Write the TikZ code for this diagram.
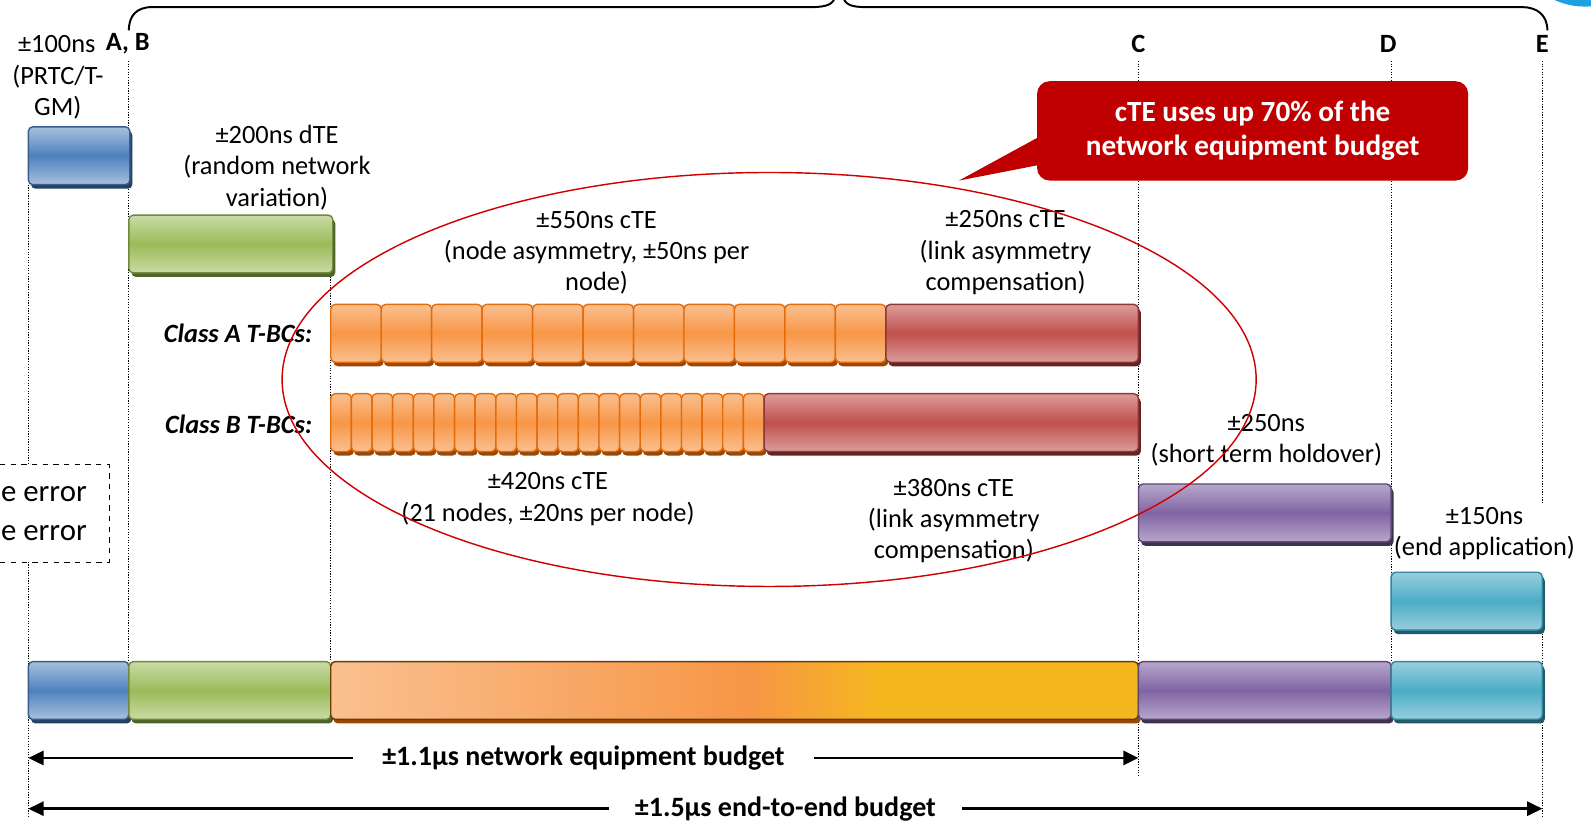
\documentclass[tikz,border=0pt]{standalone}
\usepackage{fontspec}
\setmainfont{Carlito}
\usetikzlibrary{arrows.meta, positioning, calc, shadows}
\definecolor{bluebase}{HTML}{4F81BD}
\definecolor{bluelight}{HTML}{A7C0DE}
\definecolor{blueborder}{HTML}{385D8A}
\definecolor{bluedark}{HTML}{254061}
\definecolor{grnbase}{HTML}{9BBB59}
\definecolor{grnlight}{HTML}{C9DBA5}
\definecolor{grnborder}{HTML}{71893F}
\definecolor{grndark}{HTML}{4F6228}
\definecolor{orbase}{HTML}{F79646}
\definecolor{orlight}{HTML}{FAC090}
\definecolor{orborder}{HTML}{E46C0A}
\definecolor{ordark}{HTML}{984807}
\definecolor{orbrown}{HTML}{6B3A05}
\definecolor{redbase}{HTML}{C0504D}
\definecolor{redlight}{HTML}{DC9C9A}
\definecolor{redborder}{HTML}{8C3836}
\definecolor{reddark}{HTML}{632523}
\definecolor{purbase}{HTML}{8064A2}
\definecolor{purlight}{HTML}{B7A7CB}
\definecolor{purborder}{HTML}{5C4776}
\definecolor{purdark}{HTML}{3F3151}
\definecolor{cynbase}{HTML}{4BACC6}
\definecolor{cynlight}{HTML}{98CFDE}
\definecolor{cynborder}{HTML}{31859C}
\definecolor{cyndark}{HTML}{215968}
\definecolor{yel}{HTML}{F5B71E}
\definecolor{calloutred}{HTML}{C00000}
\definecolor{ringred}{HTML}{D00000}
\definecolor{logoblue}{HTML}{1DA1E0}
\pgfdeclarehorizontalshading{budgetgrad}{100bp}{color(0bp)=(orlight); color(25bp)=(orlight); color(51bp)=(orbase); color(59bp)=(yel); color(100bp)=(yel)}
\tikzset{
  tebar/.style={draw=#1border, line width=0.8pt, rounded corners=2.5pt,
    top color=#1light, bottom color=#1light, middle color=#1base,
    inner sep=0pt, outer sep=0pt, minimum height=1.14cm, anchor=north west,
    general shadow={fill=#1dark, shadow xshift=0.05cm, shadow yshift=-0.08cm}},
  txt/.style={align=center, inner sep=0pt, font=\fontsize{14.8}{17.6}\selectfont},
  hdr/.style={inner sep=0pt, font=\fontsize{14.8}{17.6}\selectfont\bfseries},
  cls/.style={inner sep=0pt, anchor=east, font=\fontsize{14.8}{17.6}\selectfont\bfseries\itshape},
  guide/.style={line width=0.7pt, dash pattern=on 0.7pt off 0.8pt},
  budget/.style={line width=1.4pt, {Triangle[length=0.3cm,width=0.28cm]}-{Triangle[length=0.3cm,width=0.28cm]}},
  budgetlbl/.style={fill=white, inner ysep=1pt, font=\fontsize{15.7}{18}\selectfont\bfseries},
  callout/.style={fill=calloutred, rounded corners=0.25cm, text=white, align=center,
    font=\fontsize{16.4}{19.4}\selectfont\bfseries, minimum width=8.5cm, minimum height=1.96cm},
}

\begin{document}
\begin{tikzpicture}[x=0.02cm, y=-0.02cm]
  \useasboundingbox (0,0) rectangle (1568,813);
  % logo corner
  \fill[logoblue] (1562,-66) circle[radius=1.45cm];
  % top brace
  \draw[line width=1.1pt] (127,30) .. controls (127,15) and (135,7) .. (150,7) -- (800,7)
    .. controls (815,7) and (822,4) .. (823,-4);
  \draw[line width=1.1pt] (831,-4) .. controls (832,4) and (838,7) .. (853,7) -- (1500,7)
    .. controls (1515,7) and (1525,15) .. (1525,30);
  % guide lines
  \draw[guide] (28,182) -- (28,805);
  \draw[guide] (127,60) -- (127,652);
  \draw[guide] (326,270) -- (326,652);
  \draw[guide] (1122,60) -- (1122,765);
  \draw[guide] (1371,60) -- (1371,652);
  \draw[guide] (1520,60) -- (1520,495);
  \draw[guide] (1520,622) -- (1520,805);
  \coordinate (eL1) at (28,747);
  \coordinate (eC) at (1122,747);
  \coordinate (eL2) at (28,797);
  \coordinate (eE) at (1520,797);

  % column labels
  \node[txt] (t100) at (56,43) {±100ns};
  \node[hdr] (colAB) at (126,43) {A, B};
  \node[hdr] (colC) at (1122,43) {C};
  \node[hdr] (colD) at (1368,43) {D};
  \node[hdr] (colE) at (1520,43) {E};
  \node[txt] (tprtc) at (57,91) {(PRTC/T-\\GM)};

  % bars
  \node[tebar=blue, minimum width=2cm] (bPRTC) at (28,125) {};
  \node[txt] (tdte) at (273,165) {±200ns dTE\\(random network\\variation)};
  \node[tebar=grn, minimum width=4.02cm] (bdTE) at (127,212) {};

  \node[txt] (tnodeA) at (588,249) {±550ns cTE\\(node asymmetry, ±50ns per\\node)};
  \node[txt] (tlinkA) at (991,249) {±250ns cTE\\(link asymmetry\\compensation)};
  \node[cls] (clsA) at (308,329) {Class A T-BCs:};
  \foreach \i in {0,...,10}
    \node[tebar=or, minimum width=0.9945cm] (ca\i) at ({326+\i*49.73},300) {};
  \node[tebar=red, minimum width=4.98cm] (laA) at (873,300) {};

  \node[cls] (clsB) at (308,418) {Class B T-BCs:};
  \foreach \i in {0,...,20}
    \node[tebar=or, minimum width=0.4067cm] (cb\i) at ({326+\i*20.333},388) {};
  \node[tebar=red, minimum width=7.38cm] (laB) at (753,388) {};
  \node[txt] (tnodeB) at (540,492) {±420ns cTE\\(21 nodes, ±20ns per node)};
  \node[txt] (tlinkB) at (940,513) {±380ns cTE\\(link asymmetry\\compensation)};

  \node[txt] (thold) at (1248,434) {±250ns\\(short term holdover)};
  \node[tebar=pur, minimum width=4.98cm] (bhold) at (1122,477) {};
  \node[txt] (tapp) at (1463,526) {±150ns\\(end application)};
  \node[tebar=cyn, minimum width=2.98cm] (bapp) at (1371,564) {};

  % total budget bar
  \node[tebar=blue, minimum width=1.98cm] (sPRTC) at (28,652) {};
  \node[tebar=grn, minimum width=3.98cm] (sdTE) at (127,652) {};
  \node[tebar=or, draw=orbrown, shading=budgetgrad, minimum width=15.92cm] (scTE) at (326,652) {};
  \node[tebar=pur, minimum width=4.98cm] (shold) at (1122,652) {};
  \node[tebar=cyn, minimum width=2.98cm] (sapp) at (1371,652) {};

  % budgets
  \draw[budget] (eL1) -- (eC) node[midway, budgetlbl, inner xsep=0.58cm] (net) {±1.1µs network equipment budget};
  \draw[budget] (eL2) -- (eE) node[midway, budgetlbl, inner xsep=0.52cm] (e2e) {±1.5µs end-to-end budget};

  % cut-off legend box
  \node[draw, dashed, line width=0.6pt, fill=white, anchor=east, align=right, inner xsep=0.44cm,
    minimum height=1.92cm, font=\fontsize{17.3}{21.6}\selectfont] (errbox) at (108,506) {e error\\e error};

  % highlight
  \draw[ringred, line width=0.8pt] (758,374) ellipse[x radius=480, y radius=204];
  \node[callout] (note) at (1234.5,129) {cTE uses up 70\% of the\\network equipment budget};
  \coordinate (tip) at (945,178);
  \fill[calloutred] ($(note.west)+(0.3,7)$) -- (tip) -- ($(note.west)+(0.3,34)$) -- cycle;
\end{tikzpicture}
\end{document}
